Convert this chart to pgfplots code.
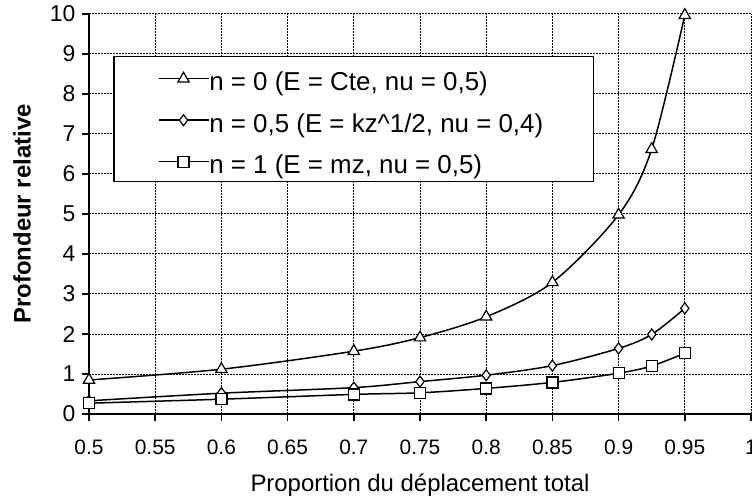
\documentclass[border=0pt]{standalone}
\usepackage{pgfplots}
\pgfplotsset{compat=1.18}
\usepackage{fontspec}
\setmainfont{Liberation Sans}
\begin{document}
\begin{tikzpicture}
\begin{axis}[
  at={(0,0)}, anchor=south west,
  scale only axis, width=662bp, height=400bp,
  xmin=0.5, xmax=1, ymin=0, ymax=10,
  xtick={0.5,0.55,0.6,0.65,0.7,0.75,0.8,0.85,0.9,0.95,1},
  xticklabels={0.5,0.55,0.6,0.65,0.7,0.75,0.8,0.85,0.9,0.95,1},
  ytick={0,1,...,10},
  yticklabels={0,1,2,3,4,5,6,7,8,9,10},
  axis x line=bottom, axis y line=left,
  axis line style={-, line width=2bp},
  tick align=outside, major tick length=7bp,
  tick style={line width=1.5bp, black},
  grid=major,
  major grid style={black, line width=1bp, dash pattern=on 2bp off 1bp},
  /pgf/number format/assume math mode=true,
  xticklabel style={font=\fontsize{21}{24}\selectfont, anchor=base, yshift=-33bp},
  yticklabel style={font=\fontsize{23}{26}\selectfont, anchor=east, xshift=-3bp},
  xlabel={Proportion du déplacement total},
  ylabel={\bfseries Profondeur relative},
  every axis x label/.style={at={(axis description cs:0.5,0)}, anchor=base, yshift=-77bp, font=\fontsize{24}{28}\selectfont},
  every axis y label/.style={at={(axis description cs:-0.1012,0.5)}, anchor=center, rotate=90, font=\fontsize{24}{28}\selectfont},
  clip=false,
  every axis plot/.append style={black, line width=1.5bp, smooth, tension=0.5},
  legend style={
    at={(axis description cs:0.0363,0.895)}, anchor=north west,
    draw=black, line width=1.5bp, fill=white,
    inner xsep=44bp, inner ysep=5bp,
    font=\fontsize{26}{30}\selectfont,
    nodes={inner sep=0pt, text height=29bp, text depth=3bp},
    row sep=9.5bp,
    /tikz/every even column/.append style={column sep=6bp},
  },
  legend cell align=left,
  legend image code/.code={
    \draw[line width=1.5bp, mark repeat=2, mark phase=2] plot coordinates {(0bp,-1bp) (25bp,-1bp) (50bp,-1bp)};
  },
]
\addplot[mark=triangle*, mark options={fill=white, line width=1.2bp, mark size=6.5bp, solid}] coordinates {
(0.5,0.85)(0.6,1.12)(0.7,1.57)(0.75,1.91)(0.8,2.43)(0.85,3.29)(0.9,4.98)(0.925,6.62)(0.95,9.97)};
\addlegendentry{\makebox[340bp][l]{n = 0 (E = Cte, nu = 0,5)}}
\addplot[mark=diamond*, mark options={fill=white, line width=1.2bp, mark size=5.5bp, solid}] coordinates {
(0.5,0.33)(0.6,0.52)(0.7,0.66)(0.75,0.81)(0.8,0.97)(0.85,1.21)(0.9,1.64)(0.925,1.99)(0.95,2.64)};
\addlegendentry{\makebox[340bp][l]{n = 0,5 (E = kz\^{}1/2, nu = 0,4)}}
\addplot[mark=square*, mark options={fill=white, line width=1.2bp, mark size=5.5bp, solid}] coordinates {
(0.5,0.27)(0.6,0.37)(0.7,0.49)(0.75,0.53)(0.8,0.64)(0.85,0.79)(0.9,1.02)(0.925,1.2)(0.95,1.52)};
\addlegendentry{\makebox[340bp][l]{n = 1 (E = mz, nu = 0,5)}}
\end{axis}
\pgfresetboundingbox
\path[use as bounding box] (-89bp,-85bp) rectangle (663bp,414bp);
\end{tikzpicture}
\end{document}
